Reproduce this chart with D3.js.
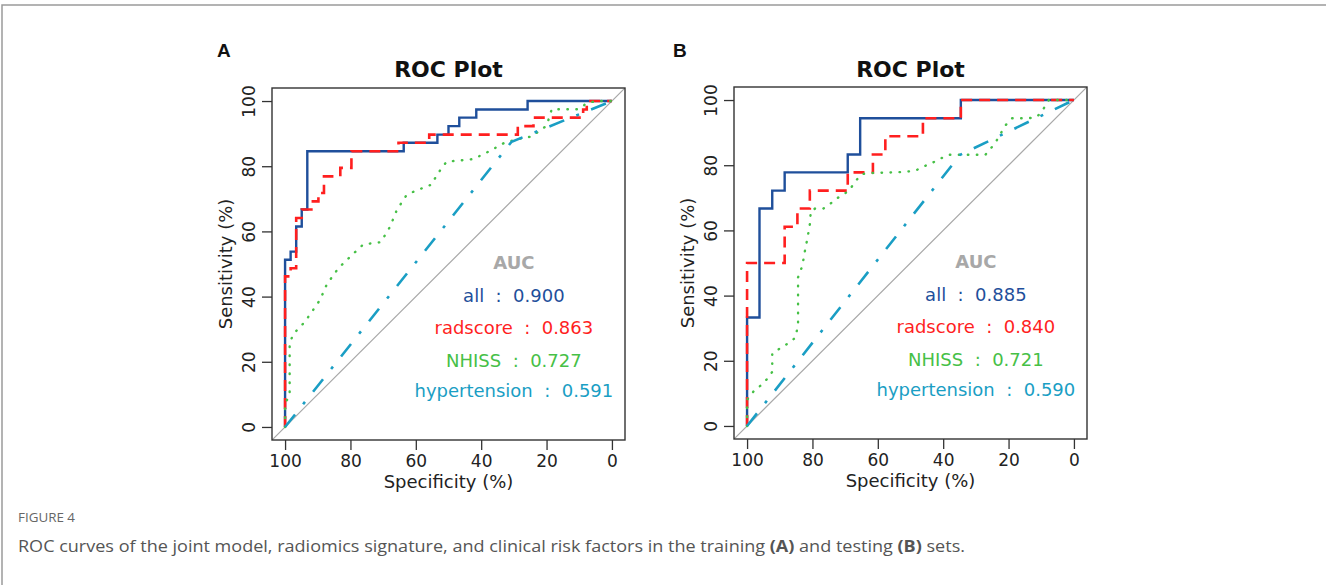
<!DOCTYPE html>
<html>
<head>
<meta charset="utf-8">
<script src="https://cdn.jsdelivr.net/npm/d3@7"></script>
<style>
	body { margin: 0; background: #fff; }
	svg { display: block; }
	.tick text { font-family: "DejaVu Sans", Verdana, sans-serif; font-size: 17px; fill: #222; }
	.tick line { stroke: #333; stroke-width: 1.3; }
</style>
</head>
<body>
<svg width="1326" height="585"></svg>
<script>
// ROC points as [specificity %, sensitivity %]
const allA = [[100,0],[100,51.3],[98.3,51.3],[98.3,53.8],[96.6,53.8],[96.6,61.5],[94.9,61.5],[94.9,66.7],[93.2,66.7],[93.2,84.6],
	[63.7,84.6],[63.7,87.2],[53.4,87.2],[53.4,89.7],[50.0,89.7],[50.0,92.3],[46.7,92.3],[46.7,94.9],[41.5,94.9],[41.5,97.4],
	[25.8,97.4],[25.8,100],[0,100]];
const radA = [[100,0],[100,46.2],[98.3,46.2],[98.3,48.7],[96.6,48.7],[96.6,64.1],[94.9,64.1],[94.9,66.7],[91.5,66.7],[91.5,69.2],
	[89.8,69.2],[89.8,71.8],[88.1,71.8],[88.1,76.9],[83.1,76.9],[83.1,79.5],[79.7,79.5],[79.7,84.6],[65.3,84.6],[65.3,87.2],
	[55.9,87.2],[55.9,89.7],[28.8,89.7],[28.8,92.3],[24.0,92.3],[24.0,94.9],[8.8,94.9],[8.8,97.4],[7.7,97.4],[7.7,100],[0,100]];
const nihssA = [[100,0],[100,7],[98.6,10],[98.6,25.6],[97.5,28.5],[93.9,32.3],[89.3,39],[87.2,43.8],[83.7,48.7],[80.1,52.2],
	[76.1,56.0],[70.7,56.7],[67.9,61.4],[65.8,66.6],[62.8,71.2],[60.2,72.4],[55.1,74.4],[53.6,77.3],[50.6,81.4],[45,81.9],
	[42.4,82.2],[37.3,84.7],[32.7,87.3],[27.1,88.7],[24.6,89.1],[20,92.4],[18.4,97.5],[10.3,97.5],[7.7,99.3],[5,100],[0,100]];
const hypA = [[100,0],[30.7,87.5],[0,100]];

const allB = [[100,0],[100,33.3],[96.2,33.3],[96.2,66.7],[92.3,66.7],[92.3,72.2],[88.5,72.2],[88.5,77.8],[69.2,77.8],[69.2,83.3],
	[65.4,83.3],[65.4,94.4],[34.6,94.4],[34.6,100],[0,100]];
const radB = [[100,0],[100,50],[88.5,50],[88.5,61.1],[84.6,61.1],[84.6,66.7],[80.8,66.7],[80.8,72.2],[69.2,72.2],[69.2,77.8],
	[61.5,77.8],[61.5,83.3],[57.7,83.3],[57.7,88.9],[46.2,88.9],[46.2,94.4],[34.6,94.4],[34.6,100],[0,100]];
const nihssB = [[100,0],[100,8],[98.5,10],[97.7,11],[95.7,12.5],[93.7,14.6],[92.3,16.6],[92.3,22.2],[90.1,23.7],[87.7,25.2],
	[85.3,27],[84.4,30.8],[84.4,45.6],[83.1,49.1],[82.3,53.7],[81.5,57.8],[80.8,61.9],[80.5,65.9],[79.2,66.7],[76.7,66.7],
	[74.1,68.5],[71.6,70.5],[69,72],[66.4,75.6],[64.9,77.3],[61.8,77.6],[52.6,77.9],[48.6,78.3],[46,79.6],[43.4,80.7],
	[40.9,82],[38.3,83.2],[27.1,83.2],[25,85.7],[23.5,87.8],[21,92.2],[18.9,94.4],[13.8,94.4],[11.2,94.9],[9.2,97.5],[7.7,100],[0,100]];
const hypB = [[100,0],[34.8,83.2],[0,100]];

const seriesNames = ['all', 'radscore', 'NHISS', 'hypertension'];
const aucA = ['0.900', '0.863', '0.727', '0.591'];
const aucB = ['0.885', '0.840', '0.721', '0.590'];
const tickValues = [0, 20, 40, 60, 80, 100];

const colors = ['#1f4f9b', '#ff1f1f', '#46c046', '#1a9ec4'],
	dashes = [null, '11,7', '0.5,8.5', '16,13,3,13'],
	widths = [2.4, 2.6, 2.4, 2.6];

const svg = d3.select('svg');

// outer frame (top + left only, like the cropped page)
svg.append('path')
	.attr('d', 'M2,585 L2,5 L1326,5')
	.attr('fill', 'none')
	.attr('stroke', '#9a9a9a')
	.attr('stroke-width', 1.5);

drawPanel('A', 272, 88, [allA, radA, nihssA, hypA], aucA, 217);
drawPanel('B', 734, 87, [allB, radB, nihssB, hypB], aucB, 673);

function drawPanel(letter, left, top, curves, aucs, letterX) {
	const w = 353, h = 352;
	const x = d3.scaleLinear().domain([104, -4]).range([left, left + w]),
		y = d3.scaleLinear().domain([-4, 104]).range([top + h, top]);

	const g = svg.append('g').attr('class', 'panel' + letter);
	const clipId = 'clip' + letter;
	g.append('clipPath').attr('id', clipId)
		.append('rect')
		.attr('x', left).attr('y', top).attr('width', w).attr('height', h);

	// reference diagonal
	g.append('line')
		.attr('x1', x(104)).attr('y1', y(-4))
		.attr('x2', x(-4)).attr('y2', y(104))
		.attr('stroke', '#a8a8a8')
		.attr('stroke-width', 1.2)
		.attr('clip-path', `url(#${clipId})`);

	const line = d3.line()
		.x(d => x(d[0]))
		.y(d => y(d[1]));

	// added one after another, like plot(..., add = TRUE)
	curves.forEach((c, i) => {
		g.append('path')
			.datum(c)
			.attr('d', line)
			.attr('fill', 'none')
			.attr('stroke', colors[i])
			.attr('stroke-width', widths[i])
			.attr('stroke-dasharray', dashes[i])
			.attr('stroke-linecap', i === 2 ? 'round' : 'butt')
			.attr('clip-path', `url(#${clipId})`);
	});

	// box
	g.append('rect')
		.attr('x', left).attr('y', top)
		.attr('width', w).attr('height', h)
		.attr('fill', 'none')
		.attr('stroke', '#333')
		.attr('stroke-width', 1.4);

	let xAxis = g.append('g')
		.attr('transform', `translate(0, ${top + h})`)
		.call(d3.axisBottom(x).tickValues(tickValues).tickSize(10).tickPadding(5));
	xAxis.select('.domain').remove();

	let yAxis = g.append('g')
		.attr('transform', `translate(${left}, 0)`)
		.call(d3.axisLeft(y).tickValues(tickValues).tickSize(10));
	yAxis.select('.domain').remove();
	yAxis.selectAll('text')
		.attr('x', null)
		.attr('dy', null)
		.attr('text-anchor', 'middle')
		.attr('transform', 'translate(-17, 0) rotate(-90)');

	const cx = left + w / 2;

	// axis labels
	g.append('text')
		.attr('x', cx)
		.attr('y', top + h + 48)
		.attr('text-anchor', 'middle')
		.style('font-family', '"DejaVu Sans", Verdana, sans-serif')
		.style('font-size', '18px')
		.style('fill', '#222')
		.text('Specificity (%)');

	g.append('text')
		.attr('transform', `translate(${left - 40}, ${y(50)}) rotate(-90)`)
		.attr('text-anchor', 'middle')
		.style('font-family', '"DejaVu Sans", Verdana, sans-serif')
		.style('font-size', '18px')
		.style('fill', '#222')
		.text('Sensitivity (%)');

	// title
	g.append('text')
		.attr('x', cx)
		.attr('y', 77)
		.attr('text-anchor', 'middle')
		.style('font-family', '"DejaVu Sans", Verdana, sans-serif')
		.style('font-weight', 'bold')
		.style('font-size', '22px')
		.style('fill', '#111')
		.text('ROC Plot');

	// panel letter
	g.append('text')
		.attr('x', letterX)
		.attr('y', 57)
		.style('font-family', '"Liberation Sans", Arial, sans-serif')
		.style('font-weight', 'bold')
		.style('font-size', '19px')
		.style('fill', '#111')
		.text(letter);

	// AUC legend
	g.append('text')
		.attr('x', x(30))
		.attr('y', y(48.5))
		.attr('text-anchor', 'middle')
		.style('font-family', '"DejaVu Sans", Verdana, sans-serif')
		.style('font-weight', 'bold')
		.style('font-size', '18px')
		.style('fill', '#a8a8a8')
		.text('AUC');

	const rows = [38.4, 28.4, 18.5, 9.2];
	seriesNames.forEach((name, i) => {
		g.append('text')
			.attr('x', x(30))
			.attr('y', y(rows[i]))
			.attr('text-anchor', 'middle')
			.attr('xml:space', 'preserve')
			.style('font-family', '"DejaVu Sans", Verdana, sans-serif')
			.style('font-size', '18px')
			.style('fill', colors[i])
			.text(`${name}  :  ${aucs[i]}`);
	});
}

// caption
svg.append('text')
	.attr('x', 18)
	.attr('y', 522)
	.attr('textLength', 57)
	.attr('lengthAdjust', 'spacingAndGlyphs')
	.style('font-family', '"Open Sans", sans-serif')
	.style('font-size', '13px')
	.style('fill', '#666')
	.text('FIGURE 4');

let caption = svg.append('text')
	.attr('x', 18)
	.attr('y', 552)
	.attr('textLength', 947)
	.attr('lengthAdjust', 'spacingAndGlyphs')
	.style('font-family', '"Open Sans", sans-serif')
	.style('font-size', '16px')
	.style('fill', '#555');
caption.append('tspan').text('ROC curves of the joint model, radiomics signature, and clinical risk factors in the training ');
caption.append('tspan').style('font-weight', 'bold').text('(A)');
caption.append('tspan').text(' and testing ');
caption.append('tspan').style('font-weight', 'bold').text('(B)');
caption.append('tspan').text(' sets.');
</script>
</body>
</html>
